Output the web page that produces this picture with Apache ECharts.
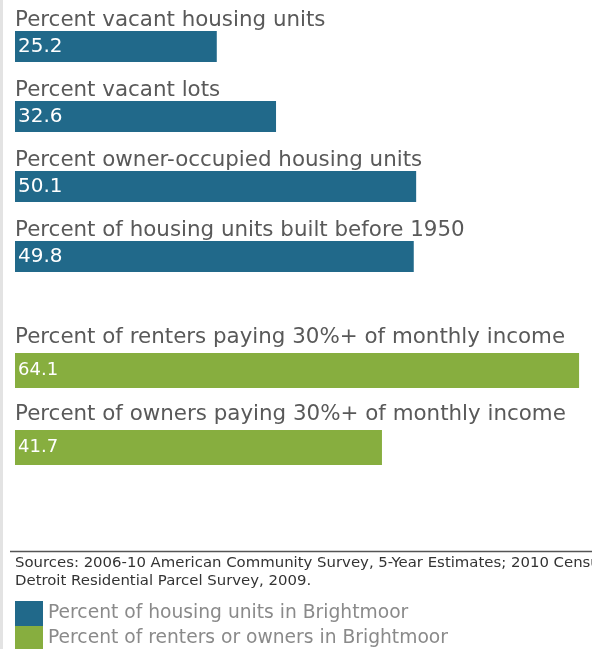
<!DOCTYPE html>
<html>
<head>
<meta charset="utf-8">
<script src="https://cdn.jsdelivr.net/npm/echarts@6/dist/echarts.min.js"></script>
<style>
  html, body { margin: 0; padding: 0; background: #fff; }
  #chart { width: 592px; height: 649px; }
</style>
</head>
<body>
<div id="chart"></div>
<script>
const housingCats = [
  'Percent vacant housing units',
  'Percent vacant lots',
  'Percent owner-occupied housing units',
  'Percent of housing units built before 1950'
]
const housingValues = [25.2, 32.6, 50.1, 49.8]

const burdenCats = [
  'Percent of renters paying 30%+ of monthly income',
  'Percent of owners paying 30%+ of monthly income'
]
const burdenValues = [64.1, 41.7]

const seriesNames = [
  'Percent of housing units in Brightmoor',
  'Percent of renters or owners in Brightmoor'
]
const sourceLines = [
  'Sources: 2006-10 American Community Survey, 5-Year Estimates; 2010 Census;',
  'Detroit Residential Parcel Survey, 2009.'
]

const FONT = '"DejaVu Sans", sans-serif'
const BLUE = '#21698a'
const GREEN = '#87ae3f'

const chart = echarts.init(document.getElementById('chart'))

function catAxis(gridIndex, data, pad) {
  return {
    gridIndex,
    type: 'category',
    data,
    inverse: true,
    axisLine: { show: false },
    axisTick: { show: false },
    axisLabel: {
      inside: true,
      interval: 0,
      margin: 0,
      align: 'left',
      verticalAlign: 'bottom',
      padding: [0, 0, pad, 0],
      fontFamily: FONT,
      fontSize: 21.4,
      color: '#595959'
    }
  }
}

function valueLabel(size) {
  return {
    show: true,
    position: 'insideLeft',
    distance: 3,
    fontFamily: FONT,
    fontSize: size,
    color: '#fff'
  }
}

function legendItem(name, top) {
  return {
    orient: 'vertical',
    left: 15,
    top,
    padding: 0,
    icon: 'rect',
    itemWidth: 28,
    itemHeight: 25,
    itemGap: 0,
    selectedMode: false,
    textStyle: { fontFamily: FONT, fontSize: 18.7, color: '#8a8a8a', lineHeight: 25 },
    data: [name]
  }
}

chart.setOption({
  animation: false,
  grid: [
    { left: 15, right: 16.5, top: 11.5, height: 280 },
    { left: 15, right: 5, top: 332, height: 154 }
  ],
  xAxis: [
    { gridIndex: 0, type: 'value', min: 0, max: 70, show: false },
    { gridIndex: 1, type: 'value', min: 0, max: 65, show: false }
  ],
  yAxis: [
    catAxis(0, housingCats, 16),
    catAxis(1, burdenCats, 23)
  ],
  legend: [
    legendItem(seriesNames[0], 601),
    legendItem(seriesNames[1], 626)
  ],
  graphic: [
    { type: 'rect', left: 0, top: 0, shape: { width: 3, height: 649 }, style: { fill: '#e3e3e3' } },
    { type: 'line', shape: { x1: 10, y1: 551.5, x2: 592, y2: 551.5 }, style: { stroke: '#555', lineWidth: 1.5 } },
    {
      type: 'text', left: 15, top: 554,
      style: { text: sourceLines.join('\n'), font: '14.9px ' + FONT, fill: '#333', lineHeight: 18 }
    }
  ],
  series: [
    {
      name: seriesNames[0],
      type: 'bar',
      xAxisIndex: 0,
      yAxisIndex: 0,
      data: housingValues,
      barWidth: 31,
      itemStyle: { color: BLUE },
      label: valueLabel(20)
    },
    {
      name: seriesNames[1],
      type: 'bar',
      xAxisIndex: 1,
      yAxisIndex: 1,
      data: burdenValues,
      barWidth: 35,
      itemStyle: { color: GREEN },
      label: valueLabel(18)
    }
  ]
})
</script>
</body>
</html>
